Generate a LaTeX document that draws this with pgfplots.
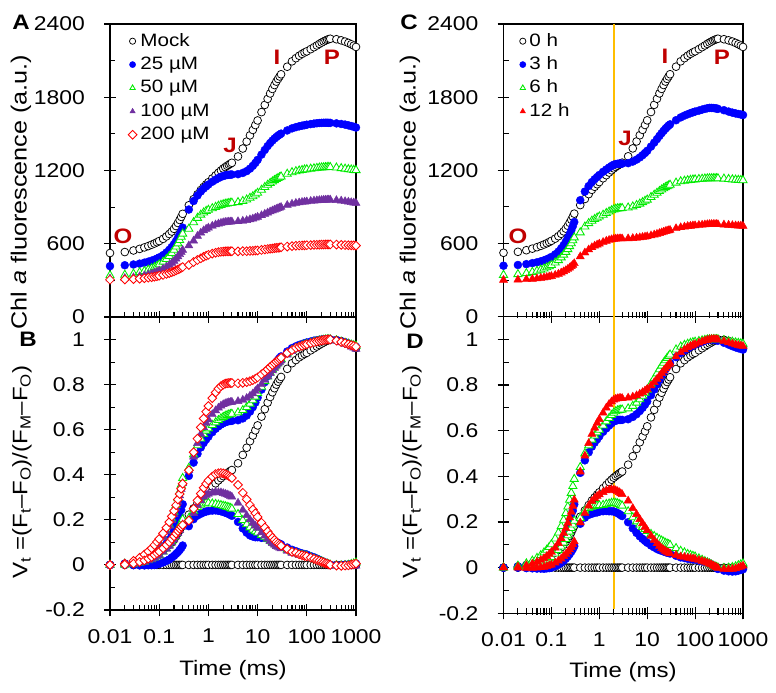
\documentclass[border=0pt]{standalone}
\usepackage{pgfplots}
\pgfplotsset{compat=1.18}
\usepackage{pgfplotstable}
\usepackage{fontspec}
\setmainfont{Liberation Sans}[FakeStretch=1.15]
\definecolor{cblue}{RGB}{0,0,255}
\definecolor{cgreen}{RGB}{0,235,0}
\definecolor{cpurple}{RGB}{112,48,160}
\definecolor{cred}{RGB}{255,0,0}
\definecolor{dred}{RGB}{192,0,0}
\definecolor{corange}{RGB}{255,190,0}

\pgfplotstableread{
t mock c25 c50 c100 c200
0.01 524 417 341 314 305
0.02 532 424 345 318 307
0.03 545 430 354 324 310
0.04 558 437 366 332 314
0.05 570 445 376 340 318
0.06 581 453 387 348 322
0.07 592 461 398 355 326
0.08 602 469 408 363 330
0.09 612 478 419 371 334
0.10 622 488 430 379 338
0.12 640 507 452 394 345
0.14 660 528 474 410 353
0.16 680 550 499 426 360
0.18 700 573 523 442 367
0.20 722 597 549 459 374
0.22 745 622 576 477 382
0.24 770 648 602 495 389
0.26 795 675 629 513 396
0.28 820 703 656 531 403
0.30 845 732 682 548 409
0.4 915 880 722 585 426
0.5 965 950 775 624 450
0.6 1005 995 811 663 467
0.7 1040 1028 837 689 481
0.8 1065 1052 855 708 493
0.9 1086 1070 868 721 502
1.0 1104 1085 877 731 509
1.2 1135 1108 890 746 519
1.4 1160 1125 901 757 526
1.6 1182 1138 910 764 531
1.8 1200 1148 917 770 534
2.0 1216 1155 922 774 536
2.2 1228 1160 927 777 537
2.4 1238 1163 929 778 538
2.6 1247 1165 932 780 538
2.8 1255 1166 934 780 538
3.0 1263 1167 935 781 538
4 1315 1170 940 783 538
5 1380 1180 949 787 539
6 1437 1195 961 792 539
7 1488 1215 975 799 541
8 1532 1238 988 805 542
9 1572 1262 1002 812 544
10 1610 1287 1016 819 545
12 1678 1330 1041 832 549
14 1737 1368 1063 844 553
16 1787 1400 1082 854 556
18 1831 1425 1097 863 559
20 1868 1445 1109 871 561
22 1900 1461 1120 878 564
24 1928 1474 1129 884 566
26 1950 1485 1137 890 567
28 1970 1494 1144 895 569
30 1988 1502 1150 900 571
40 2050 1528 1172 916 577
50 2094 1545 1185 926 580
60 2120 1555 1193 933 583
70 2140 1562 1199 937 585
80 2155 1567 1203 941 586
90 2167 1571 1207 943 587
100 2176 1575 1209 945 588
120 2194 1580 1214 949 589
140 2210 1584 1217 952 591
160 2224 1587 1220 954 591
180 2237 1589 1223 956 592
200 2248 1590 1224 957 593
220 2257 1591 1225 959 593
240 2265 1591 1226 959 594
260 2271 1591 1227 960 594
280 2276 1590 1227 960 594
300 2279 1590 1227 960 594
400 2275 1586 1223 956 593
500 2266 1581 1218 952 591
600 2256 1576 1214 947 589
700 2245 1570 1210 943 588
800 2234 1564 1207 939 587
900 2223 1558 1204 936 586
1000 2212 1552 1202 933 585
}\tabA

\pgfplotstableread{
t vm v25 v50 v100 v200 dm d25 d50 d100 d200
0.01 0 0 0 0 0 0 0 0 0 0
0.02 0.005 0.006 0.005 0.006 0.006 0 0.001 0.000 0.001 0.001
0.03 0.012 0.011 0.015 0.016 0.018 0 -0.001 0.003 0.004 0.006
0.04 0.019 0.017 0.028 0.028 0.032 0 -0.002 0.009 0.009 0.013
0.05 0.026 0.024 0.040 0.040 0.046 0 -0.002 0.014 0.014 0.020
0.06 0.032 0.031 0.052 0.052 0.060 0 -0.001 0.020 0.020 0.028
0.07 0.039 0.038 0.064 0.064 0.074 0 -0.001 0.025 0.025 0.035
0.08 0.044 0.044 0.076 0.076 0.088 0 0.000 0.032 0.032 0.044
0.09 0.050 0.052 0.088 0.088 0.102 0 0.002 0.038 0.038 0.052
0.10 0.056 0.061 0.100 0.100 0.115 0 0.005 0.044 0.044 0.059
0.12 0.066 0.077 0.125 0.124 0.140 0 0.011 0.059 0.058 0.074
0.14 0.077 0.095 0.150 0.148 0.165 0 0.018 0.073 0.071 0.088
0.16 0.089 0.113 0.178 0.173 0.190 0 0.024 0.089 0.084 0.101
0.18 0.100 0.133 0.205 0.198 0.215 0 0.033 0.105 0.098 0.115
0.20 0.113 0.153 0.235 0.225 0.240 0 0.040 0.122 0.112 0.127
0.22 0.126 0.175 0.265 0.252 0.265 0 0.049 0.139 0.126 0.139
0.24 0.140 0.197 0.295 0.280 0.290 0 0.057 0.155 0.140 0.150
0.26 0.154 0.220 0.325 0.308 0.315 0 0.066 0.171 0.154 0.161
0.28 0.169 0.244 0.355 0.336 0.338 0 0.075 0.186 0.167 0.169
0.30 0.183 0.269 0.385 0.362 0.360 0 0.086 0.202 0.179 0.177
0.4 0.223 0.395 0.430 0.420 0.420 0 0.172 0.207 0.197 0.197
0.5 0.251 0.454 0.490 0.480 0.500 0 0.203 0.239 0.229 0.249
0.6 0.274 0.493 0.530 0.540 0.560 0 0.219 0.256 0.266 0.286
0.7 0.294 0.521 0.560 0.580 0.610 0 0.227 0.266 0.286 0.316
0.8 0.308 0.541 0.580 0.610 0.650 0 0.233 0.272 0.302 0.342
0.9 0.320 0.557 0.595 0.630 0.680 0 0.237 0.275 0.310 0.360
1.0 0.330 0.569 0.605 0.645 0.705 0 0.239 0.275 0.315 0.375
1.2 0.348 0.589 0.620 0.668 0.740 0 0.241 0.272 0.320 0.392
1.4 0.362 0.604 0.632 0.685 0.765 0 0.242 0.270 0.323 0.403
1.6 0.375 0.615 0.642 0.697 0.782 0 0.240 0.267 0.322 0.407
1.8 0.385 0.623 0.650 0.706 0.793 0 0.238 0.265 0.321 0.408
2.0 0.394 0.629 0.656 0.712 0.800 0 0.235 0.262 0.318 0.406
2.2 0.401 0.633 0.661 0.716 0.804 0 0.232 0.260 0.315 0.403
2.4 0.407 0.636 0.664 0.719 0.806 0 0.229 0.257 0.312 0.399
2.6 0.412 0.638 0.667 0.721 0.807 0 0.226 0.255 0.309 0.395
2.8 0.417 0.639 0.669 0.722 0.807 0 0.222 0.252 0.305 0.390
3.0 0.421 0.639 0.670 0.723 0.807 0 0.218 0.249 0.302 0.386
4 0.451 0.642 0.676 0.726 0.806 0 0.191 0.225 0.275 0.355
5 0.488 0.650 0.686 0.732 0.808 0 0.162 0.198 0.244 0.320
6 0.520 0.663 0.700 0.740 0.811 0 0.143 0.180 0.220 0.291
7 0.549 0.680 0.715 0.750 0.815 0 0.131 0.166 0.201 0.266
8 0.574 0.700 0.730 0.760 0.820 0 0.126 0.156 0.186 0.246
9 0.597 0.720 0.746 0.771 0.826 0 0.123 0.149 0.174 0.229
10 0.619 0.742 0.762 0.782 0.832 0 0.123 0.143 0.163 0.213
12 0.658 0.778 0.790 0.802 0.845 0 0.120 0.132 0.144 0.187
14 0.691 0.811 0.815 0.820 0.857 0 0.120 0.124 0.129 0.166
16 0.720 0.838 0.836 0.836 0.868 0 0.118 0.116 0.116 0.148
18 0.745 0.859 0.853 0.850 0.878 0 0.114 0.108 0.105 0.133
20 0.766 0.876 0.867 0.862 0.887 0 0.110 0.101 0.096 0.121
22 0.784 0.890 0.879 0.873 0.895 0 0.106 0.095 0.089 0.111
24 0.800 0.901 0.889 0.883 0.902 0 0.101 0.089 0.083 0.102
26 0.813 0.910 0.898 0.892 0.908 0 0.097 0.085 0.079 0.095
28 0.824 0.918 0.906 0.900 0.914 0 0.094 0.082 0.076 0.090
30 0.834 0.925 0.913 0.907 0.919 0 0.091 0.079 0.073 0.085
40 0.870 0.947 0.938 0.932 0.940 0 0.077 0.068 0.062 0.070
50 0.895 0.962 0.953 0.948 0.953 0 0.067 0.058 0.053 0.058
60 0.909 0.970 0.962 0.958 0.963 0 0.061 0.053 0.049 0.054
70 0.921 0.976 0.968 0.965 0.968 0 0.055 0.047 0.044 0.047
80 0.929 0.980 0.973 0.970 0.972 0 0.051 0.044 0.041 0.043
90 0.936 0.984 0.977 0.974 0.976 0 0.048 0.041 0.038 0.040
100 0.941 0.987 0.980 0.977 0.979 0 0.046 0.039 0.036 0.038
120 0.952 0.991 0.985 0.983 0.984 0 0.039 0.033 0.031 0.032
140 0.961 0.995 0.989 0.987 0.988 0 0.034 0.028 0.026 0.027
160 0.969 0.997 0.992 0.991 0.991 0 0.028 0.023 0.022 0.022
180 0.976 0.999 0.995 0.994 0.994 0 0.023 0.019 0.018 0.018
200 0.982 1.000 0.997 0.996 0.996 0 0.018 0.015 0.014 0.014
220 0.987 1.001 0.998 0.998 0.998 0 0.014 0.011 0.011 0.011
240 0.992 1.001 0.999 0.999 0.999 0 0.009 0.007 0.007 0.007
260 0.995 1.001 1.000 1.000 1.000 0 0.006 0.005 0.005 0.005
280 0.998 1.000 1.000 1.000 1.000 0 0.002 0.002 0.002 0.002
300 1.000 1.000 1.000 1.000 1.000 0 0.000 0.000 0.000 0.000
400 0.998 0.997 0.996 0.994 0.995 0 -0.001 -0.002 -0.004 -0.003
500 0.993 0.992 0.990 0.987 0.989 0 -0.001 -0.003 -0.006 -0.004
600 0.987 0.988 0.985 0.980 0.984 0 0.001 -0.002 -0.007 -0.003
700 0.981 0.983 0.981 0.974 0.979 0 0.002 0.000 -0.007 -0.002
800 0.974 0.978 0.977 0.968 0.975 0 0.004 0.003 -0.006 0.001
900 0.968 0.973 0.974 0.963 0.972 0 0.005 0.006 -0.005 0.004
1000 0.962 0.968 0.972 0.958 0.968 0 0.006 0.010 -0.004 0.006
}\tabB

\pgfplotstableread{
t h0 h3 h6 h12
0.01 524 418 342 301
0.02 532 424 348 303
0.03 545 431 356 306
0.04 558 439 366 309
0.05 570 446 375 312
0.06 581 454 385 316
0.07 592 462 394 320
0.08 602 471 404 324
0.09 612 480 413 328
0.10 622 490 423 332
0.12 640 511 443 341
0.14 660 534 463 350
0.16 680 560 485 360
0.18 700 586 508 370
0.20 722 615 530 380
0.22 745 644 553 390
0.24 770 675 577 401
0.26 795 708 601 413
0.28 820 742 625 424
0.30 845 776 649 437
0.4 915 955 690 493
0.5 965 1026 738 525
0.6 1005 1071 766 550
0.7 1040 1104 786 568
0.8 1065 1127 800 581
0.9 1086 1145 811 590
1.0 1104 1162 820 598
1.2 1135 1188 835 611
1.4 1160 1207 849 621
1.6 1182 1223 861 628
1.8 1200 1236 871 633
2.0 1216 1246 879 637
2.2 1228 1251 884 639
2.4 1238 1254 887 640
2.6 1247 1255 888 640
2.8 1255 1255 889 640
3.0 1263 1255 890 640
4 1315 1259 894 641
5 1380 1272 903 643
6 1437 1288 914 646
7 1488 1306 926 649
8 1532 1324 938 652
9 1572 1342 949 655
10 1610 1360 959 658
12 1678 1395 980 665
14 1737 1427 999 672
16 1787 1456 1015 678
18 1831 1482 1029 684
20 1868 1505 1042 690
22 1900 1524 1052 695
24 1928 1541 1061 700
26 1950 1555 1069 704
28 1970 1567 1075 707
30 1988 1577 1081 710
40 2050 1611 1098 724
50 2094 1634 1109 732
60 2120 1649 1114 737
70 2140 1660 1118 742
80 2155 1669 1121 744
90 2167 1676 1124 747
100 2176 1682 1125 748
120 2194 1690 1128 751
140 2210 1698 1130 753
160 2224 1704 1132 755
180 2237 1709 1133 757
200 2248 1712 1134 758
220 2257 1712 1134 758
240 2265 1711 1134 758
260 2271 1709 1134 758
280 2276 1707 1134 758
300 2279 1704 1134 757
400 2275 1693 1131 754
500 2266 1682 1128 752
600 2256 1673 1125 749
700 2245 1667 1123 747
800 2234 1662 1121 746
900 2223 1658 1120 745
1000 2212 1654 1118 744
}\tabC

\pgfplotstableread{
t v0 v3 v6 v12 d0 d3 d6 d12
0.01 0 0 0 0 0 0 0 0
0.02 0.005 0.005 0.008 0.004 0 0.000 0.003 -0.001
0.03 0.012 0.010 0.018 0.010 0 -0.002 0.006 -0.002
0.04 0.019 0.016 0.030 0.017 0 -0.003 0.011 -0.002
0.05 0.026 0.022 0.042 0.025 0 -0.004 0.016 -0.001
0.06 0.032 0.028 0.054 0.033 0 -0.004 0.022 0.001
0.07 0.039 0.034 0.066 0.041 0 -0.005 0.027 0.002
0.08 0.044 0.041 0.078 0.050 0 -0.003 0.034 0.006
0.09 0.050 0.048 0.090 0.059 0 -0.002 0.040 0.009
0.10 0.056 0.056 0.102 0.068 0 0.000 0.046 0.012
0.12 0.066 0.072 0.127 0.087 0 0.006 0.061 0.021
0.14 0.077 0.090 0.153 0.107 0 0.013 0.076 0.030
0.16 0.089 0.110 0.181 0.128 0 0.021 0.092 0.039
0.18 0.100 0.130 0.209 0.150 0 0.030 0.109 0.050
0.20 0.113 0.152 0.238 0.172 0 0.039 0.125 0.059
0.22 0.126 0.175 0.267 0.195 0 0.049 0.141 0.069
0.24 0.140 0.199 0.297 0.219 0 0.059 0.157 0.079
0.26 0.154 0.224 0.327 0.244 0 0.070 0.173 0.090
0.28 0.169 0.250 0.357 0.270 0 0.081 0.188 0.101
0.30 0.183 0.277 0.388 0.297 0 0.094 0.205 0.114
0.4 0.223 0.415 0.440 0.420 0 0.192 0.217 0.197
0.5 0.251 0.470 0.500 0.490 0 0.219 0.249 0.239
0.6 0.274 0.505 0.535 0.545 0 0.231 0.261 0.271
0.7 0.294 0.530 0.560 0.585 0 0.236 0.266 0.291
0.8 0.308 0.548 0.578 0.612 0 0.240 0.270 0.304
0.9 0.320 0.562 0.592 0.633 0 0.242 0.272 0.313
1.0 0.330 0.575 0.603 0.650 0 0.245 0.273 0.320
1.2 0.348 0.595 0.622 0.678 0 0.247 0.274 0.330
1.4 0.362 0.610 0.640 0.700 0 0.248 0.278 0.338
1.6 0.375 0.622 0.655 0.716 0 0.247 0.280 0.341
1.8 0.385 0.632 0.668 0.727 0 0.247 0.283 0.342
2.0 0.394 0.640 0.678 0.735 0 0.246 0.284 0.341
2.2 0.401 0.644 0.684 0.739 0 0.243 0.283 0.338
2.4 0.407 0.646 0.688 0.741 0 0.239 0.281 0.334
2.6 0.412 0.647 0.690 0.742 0 0.235 0.278 0.330
2.8 0.417 0.647 0.691 0.742 0 0.230 0.274 0.325
3.0 0.421 0.647 0.692 0.742 0 0.226 0.271 0.321
4 0.451 0.650 0.697 0.744 0 0.199 0.246 0.293
5 0.488 0.660 0.708 0.748 0 0.172 0.220 0.260
6 0.520 0.672 0.722 0.754 0 0.152 0.202 0.234
7 0.549 0.686 0.737 0.761 0 0.137 0.188 0.212
8 0.574 0.700 0.752 0.768 0 0.126 0.178 0.194
9 0.597 0.714 0.766 0.775 0 0.117 0.169 0.178
10 0.619 0.728 0.779 0.782 0 0.109 0.160 0.163
12 0.658 0.755 0.805 0.797 0 0.097 0.147 0.139
14 0.691 0.780 0.829 0.812 0 0.089 0.138 0.121
16 0.720 0.802 0.850 0.826 0 0.082 0.130 0.106
18 0.745 0.822 0.868 0.839 0 0.077 0.123 0.094
20 0.766 0.840 0.884 0.851 0 0.074 0.118 0.085
22 0.784 0.855 0.897 0.862 0 0.071 0.113 0.078
24 0.800 0.868 0.908 0.872 0 0.068 0.108 0.072
26 0.813 0.879 0.918 0.881 0 0.066 0.105 0.068
28 0.824 0.888 0.926 0.889 0 0.064 0.102 0.065
30 0.834 0.896 0.933 0.896 0 0.062 0.099 0.062
40 0.870 0.922 0.955 0.925 0 0.052 0.085 0.055
50 0.895 0.940 0.968 0.943 0 0.045 0.073 0.048
60 0.909 0.951 0.975 0.955 0 0.042 0.066 0.046
70 0.921 0.960 0.980 0.964 0 0.039 0.059 0.043
80 0.929 0.967 0.984 0.970 0 0.038 0.055 0.041
90 0.936 0.972 0.987 0.975 0 0.036 0.051 0.039
100 0.941 0.977 0.989 0.979 0 0.036 0.048 0.038
120 0.952 0.983 0.992 0.985 0 0.031 0.040 0.033
140 0.961 0.989 0.995 0.990 0 0.028 0.034 0.029
160 0.969 0.994 0.997 0.994 0 0.025 0.028 0.025
180 0.976 0.998 0.999 0.997 0 0.022 0.023 0.021
200 0.982 1.000 1.000 0.999 0 0.018 0.018 0.017
220 0.987 1.000 1.000 1.000 0 0.013 0.013 0.013
240 0.992 0.999 1.000 1.000 0 0.007 0.008 0.008
260 0.995 0.998 1.000 1.000 0 0.003 0.005 0.005
280 0.998 0.996 1.000 0.999 0 -0.002 0.002 0.001
300 1.000 0.994 1.000 0.998 0 -0.006 0.000 -0.002
400 0.998 0.985 0.996 0.992 0 -0.013 -0.002 -0.006
500 0.993 0.977 0.992 0.986 0 -0.016 -0.001 -0.007
600 0.987 0.970 0.989 0.981 0 -0.017 0.002 -0.006
700 0.981 0.965 0.986 0.977 0 -0.016 0.005 -0.004
800 0.974 0.961 0.984 0.974 0 -0.013 0.010 0.000
900 0.968 0.958 0.982 0.972 0 -0.010 0.014 0.004
1000 0.962 0.955 0.980 0.970 0 -0.007 0.018 0.008
}\tabD

\tikzset{
  mockst/.style={only marks, mark=*, mark size=3.9bp, mark options={draw=black, fill=white, line width=0.75bp}},
  bluest/.style={only marks, mark=*, mark size=4bp, mark options={draw=cblue, fill=cblue, line width=0.4bp}},
  greenst/.style={only marks, mark=triangle*, mark size=4.7bp, mark options={draw=cgreen, fill=white, line width=0.85bp}},
  purplest/.style={only marks, mark=triangle*, mark size=4.7bp, mark options={draw=cpurple, fill=cpurple, line width=0.4bp}},
  reddst/.style={only marks, mark=square*, mark size=3.1bp, mark options={rotate=45, draw=cred, fill=white, line width=0.85bp}},
  redtst/.style={only marks, mark=triangle*, mark size=4.7bp, mark options={draw=cred, fill=cred, line width=0.4bp}},
  tk/.style={black, line width=1.1bp},
}

\begin{document}
\begin{tikzpicture}
\useasboundingbox (0,0) rectangle (776bp,693bp);

% Panel A
\begin{axis}[at={(110bp,376bp)}, anchor=south west, width=246bp, height=293bp,
    scale only axis, xmode=log, xmin=0.01, xmax=1000, ymin=0, ymax=2400, clip=false,
    axis line style={line width=1.1bp},
    xtick={0.01,0.1,1,10,100,1000}, xticklabels=\empty,
    ytick={0,600,1200,1800,2400}, yticklabels={0,600,1200,1800,2400},
    tick style={black, line width=1.1bp},
    tick align=center, major tick length=12bp,
    xtick pos=left, ytick pos=left,
    tick label style={font=\fontsize{20}{24}\selectfont, inner sep=0pt},
    yticklabel style={anchor=east, xshift=-19bp},
    legend cell align=left,
    legend image code/.code={\draw[mark repeat=2,mark phase=2,#1,mark size=3.1bp] plot coordinates {(0bp,0bp) (5bp,0bp) (10bp,0bp)};},
    legend style={at={(0,1)}, anchor=north west, xshift=18bp, yshift=-8bp, draw=none, fill=white,
      inner sep=0pt, row sep=5.4bp, column sep=2bp, font=\fontsize{18}{22}\selectfont,
      nodes={inner xsep=1.5bp, inner ysep=0pt, text height=14bp, text depth=4bp}},
  ]
\pgfplotsinvokeforeach{0.01,0.1,1,10,100,1000}{\draw[tk] (axis cs:#1,0) ++(0pt,-6bp) -- ++(0pt,12bp);}
\pgfplotsinvokeforeach{0.02,0.03,0.04,0.05,0.06,0.07,0.08,0.09,0.2,0.3,0.4,0.5,0.6,0.7,0.8,0.9,2,3,4,5,6,7,8,9,20,30,40,50,60,70,80,90,200,300,400,500,600,700,800,900}{\draw[tk] (axis cs:#1,0) -- ++(0pt,5bp);}
\pgfplotsinvokeforeach{0,600,1200,1800,2400}{\draw[tk] (axis cs:0.01,#1) ++(-5bp,0pt) -- ++(10bp,0pt);}
\pgfplotsinvokeforeach{300,900,1500,2100}{\draw[tk] (axis cs:0.01,#1) -- ++(5bp,0pt);}
\addplot[mockst] table[x=t,y=mock]{\tabA}; \addlegendentry{Mock}
\addplot[bluest] table[x=t,y=c25]{\tabA}; \addlegendentry{25 µM}
\addplot[greenst] table[x=t,y=c50]{\tabA}; \addlegendentry{50 µM}
\addplot[purplest] table[x=t,y=c100]{\tabA}; \addlegendentry{100 µM}
\addplot[reddst] table[x=t,y=c200]{\tabA}; \addlegendentry{200 µM}
\end{axis}

% Panel B
\begin{axis}[at={(110bp,83bp)}, anchor=south west, width=246bp, height=293bp,
    scale only axis, xmode=log, xmin=0.01, xmax=1000, ymin=-0.2, ymax=1.1, clip=false,
    axis line style={line width=1.1bp},
    xtick={0.01,0.1,1,10,100,1000}, xticklabels={0.01,0.1,1,10,100,1000},
    ytick={-0.2,0,0.2,0.4,0.6,0.8,1.0}, yticklabels={-0.2,0,0.2,0.4,0.6,0.8,1},
    tick style={black, line width=1.1bp},
    tick align=center, major tick length=12bp,
    xtick pos=left, ytick pos=left,
    tick label style={font=\fontsize{20}{24}\selectfont, inner sep=0pt},
    yticklabel style={anchor=east, xshift=-19bp},
    xticklabel style={anchor=north, yshift=-13bp},
  ]
\pgfplotsinvokeforeach{0.01,0.1,1,10,100,1000}{\draw[tk] (axis cs:#1,-0.2) ++(0pt,-6bp) -- ++(0pt,12bp);}
\pgfplotsinvokeforeach{0.02,0.03,0.04,0.05,0.06,0.07,0.08,0.09,0.2,0.3,0.4,0.5,0.6,0.7,0.8,0.9,2,3,4,5,6,7,8,9,20,30,40,50,60,70,80,90,200,300,400,500,600,700,800,900}{\draw[tk] (axis cs:#1,-0.2) -- ++(0pt,5bp);}
\pgfplotsinvokeforeach{-0.2,0,0.2,0.4,0.6,0.8,1.0}{\draw[tk] (axis cs:0.01,#1) ++(-5bp,0pt) -- ++(10bp,0pt);}
\pgfplotsinvokeforeach{-0.1,0.1,0.3,0.5,0.7,0.9}{\draw[tk] (axis cs:0.01,#1) -- ++(5bp,0pt);}
\addplot[mockst] table[x=t,y=vm]{\tabB};
\addplot[mockst] table[x=t,y=dm]{\tabB};
\addplot[bluest] table[x=t,y=v25]{\tabB};
\addplot[bluest] table[x=t,y=d25]{\tabB};
\addplot[greenst] table[x=t,y=v50]{\tabB};
\addplot[greenst] table[x=t,y=d50]{\tabB};
\addplot[purplest] table[x=t,y=v100]{\tabB};
\addplot[purplest] table[x=t,y=d100]{\tabB};
\addplot[reddst] table[x=t,y=v200]{\tabB};
\addplot[reddst] table[x=t,y=d200]{\tabB};
\end{axis}

% Panel C
\begin{axis}[at={(503.5bp,376.3bp)}, anchor=south west, width=239.5bp, height=292.7bp,
    scale only axis, xmode=log, xmin=0.01, xmax=1000, ymin=0, ymax=2400, clip=false,
    axis line style={line width=1.1bp},
    xtick={0.01,0.1,1,10,100,1000}, xticklabels=\empty,
    ytick={0,600,1200,1800,2400}, yticklabels={0,600,1200,1800,2400},
    tick style={black, line width=1.1bp},
    tick align=center, major tick length=12bp,
    xtick pos=left, ytick pos=left,
    tick label style={font=\fontsize{20}{24}\selectfont, inner sep=0pt},
    yticklabel style={anchor=east, xshift=-19bp},
    legend cell align=left,
    legend image code/.code={\draw[mark repeat=2,mark phase=2,#1,mark size=3.1bp] plot coordinates {(0bp,0bp) (5bp,0bp) (10bp,0bp)};},
    legend style={at={(0,1)}, anchor=north west, xshift=16bp, yshift=-8bp, draw=none, fill=white,
      inner sep=0pt, row sep=5.4bp, column sep=2bp, font=\fontsize{18}{22}\selectfont,
      nodes={inner xsep=1.5bp, inner ysep=0pt, text height=14bp, text depth=4bp}},
  ]
\pgfplotsinvokeforeach{0.01,0.1,1,10,100,1000}{\draw[tk] (axis cs:#1,0) ++(0pt,-6bp) -- ++(0pt,12bp);}
\pgfplotsinvokeforeach{0.02,0.03,0.04,0.05,0.06,0.07,0.08,0.09,0.2,0.3,0.4,0.5,0.6,0.7,0.8,0.9,2,3,4,5,6,7,8,9,20,30,40,50,60,70,80,90,200,300,400,500,600,700,800,900}{\draw[tk] (axis cs:#1,0) -- ++(0pt,5bp);}
\pgfplotsinvokeforeach{0,600,1200,1800,2400}{\draw[tk] (axis cs:0.01,#1) ++(-5bp,0pt) -- ++(10bp,0pt);}
\pgfplotsinvokeforeach{300,900,1500,2100}{\draw[tk] (axis cs:0.01,#1) -- ++(5bp,0pt);}
\addplot[mockst] table[x=t,y=h0]{\tabC}; \addlegendentry{0 h}
\addplot[bluest] table[x=t,y=h3]{\tabC}; \addlegendentry{3 h}
\addplot[greenst] table[x=t,y=h6]{\tabC}; \addlegendentry{6 h}
\addplot[redtst] table[x=t,y=h12]{\tabC}; \addlegendentry{12 h}
\addplot[draw=corange, line width=1.6bp, no marks, forget plot] coordinates {(2,0) (2,2400)};
\end{axis}

% Panel D
\begin{axis}[at={(503.5bp,79.7bp)}, anchor=south west, width=239.5bp, height=296.8bp,
    scale only axis, xmode=log, xmin=0.01, xmax=1000, ymin=-0.2, ymax=1.1, clip=false,
    axis line style={line width=1.1bp},
    xtick={0.01,0.1,1,10,100,1000}, xticklabels={0.01,0.1,1,10,100,1000},
    ytick={-0.2,0,0.2,0.4,0.6,0.8,1.0}, yticklabels={-0.2,0,0.2,0.4,0.6,0.8,1},
    tick style={black, line width=1.1bp},
    tick align=center, major tick length=12bp,
    xtick pos=left, ytick pos=left,
    tick label style={font=\fontsize{20}{24}\selectfont, inner sep=0pt},
    yticklabel style={anchor=east, xshift=-19bp},
    xticklabel style={anchor=north, yshift=-13bp},
  ]
\pgfplotsinvokeforeach{0.01,0.1,1,10,100,1000}{\draw[tk] (axis cs:#1,-0.2) ++(0pt,-6bp) -- ++(0pt,12bp);}
\pgfplotsinvokeforeach{0.02,0.03,0.04,0.05,0.06,0.07,0.08,0.09,0.2,0.3,0.4,0.5,0.6,0.7,0.8,0.9,2,3,4,5,6,7,8,9,20,30,40,50,60,70,80,90,200,300,400,500,600,700,800,900}{\draw[tk] (axis cs:#1,-0.2) -- ++(0pt,5bp);}
\pgfplotsinvokeforeach{-0.2,0,0.2,0.4,0.6,0.8,1.0}{\draw[tk] (axis cs:0.01,#1) ++(-5bp,0pt) -- ++(10bp,0pt);}
\pgfplotsinvokeforeach{-0.1,0.1,0.3,0.5,0.7,0.9}{\draw[tk] (axis cs:0.01,#1) -- ++(5bp,0pt);}
\addplot[mockst] table[x=t,y=v0]{\tabD};
\addplot[mockst] table[x=t,y=d0]{\tabD};
\addplot[bluest] table[x=t,y=v3]{\tabD};
\addplot[bluest] table[x=t,y=d3]{\tabD};
\addplot[greenst] table[x=t,y=v6]{\tabD};
\addplot[greenst] table[x=t,y=d6]{\tabD};
\addplot[redtst] table[x=t,y=v12]{\tabD};
\addplot[redtst] table[x=t,y=d12]{\tabD};
\addplot[draw=corange, line width=1.6bp, no marks] coordinates {(2,-0.18) (2,1.1)};
\end{axis}

% Panel letters
\begin{scope}[every node/.style={font=\bfseries\fontsize{21}{24}\selectfont}]
\node at (21bp,671bp) {A};
\node at (28bp,354bp) {B};
\node at (409bp,671bp) {C};
\node at (415bp,352bp) {D};
\end{scope}

% OJIP labels
\begin{scope}[every node/.style={font=\bfseries\fontsize{21}{24}\selectfont, text=dred}]
\node at (123bp,457bp) {O};
\node at (230bp,548bp) {J};
\node at (277bp,636bp) {I};
\node at (332bp,636bp) {P};
\node at (518bp,457bp) {O};
\node at (625bp,555bp) {J};
\node at (665bp,637bp) {I};
\node at (722bp,636bp) {P};
\end{scope}

% Axis labels
\begin{scope}[every node/.style={font=\fontsize{21}{24}\selectfont}]
\node[rotate=90, font=\fontsize{22}{24}\selectfont] at (21bp,501bp) {Chl \textit{a} fluorescence (a.u.)};
\node[rotate=90, font=\fontsize{22}{24}\selectfont] at (410bp,501bp) {Chl \textit{a} fluorescence (a.u.)};
\node[rotate=90] at (22bp,221bp) {V\textsubscript{t} =(F\textsubscript{t}–F\textsubscript{O})/(F\textsubscript{M}–F\textsubscript{O})};
\node[rotate=90] at (412bp,221bp) {V\textsubscript{t} =(F\textsubscript{t}–F\textsubscript{O})/(F\textsubscript{M}–F\textsubscript{O})};
\node at (233bp,23bp) {Time (ms)};
\node at (623bp,21bp) {Time (ms)};
\end{scope}
\end{tikzpicture}
\end{document}
